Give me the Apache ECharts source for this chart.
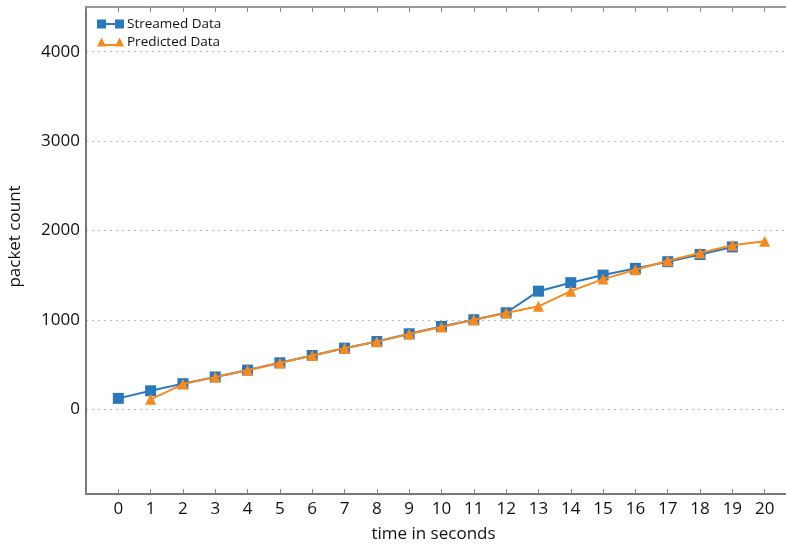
<!DOCTYPE html>
<html>
<head>
<meta charset="utf-8">
<script src="https://cdn.jsdelivr.net/npm/echarts@6/dist/echarts.min.js"></script>
<style>html,body{margin:0;padding:0;background:#fff;overflow:hidden;}#c{width:786px;height:546px;}</style>
</head>
<body>
<div id="c"></div>
<script>
var timeSeconds = [0,1,2,3,4,5,6,7,8,9,10,11,12,13,14,15,16,17,18,19,20];
var streamedData = [120,205,285,360,437,518,600,682,757,843,925,1000,1078,1320,1415,1500,1575,1650,1730,1815,null];
var predictedData = [null,110,280,358,435,515,600,680,755,840,920,1000,1075,1150,1320,1455,1560,1660,1748,1835,1878];
var yTickLabels = [0,1000,2000,3000,4000];

function pairs(vals){
  var out = [];
  for (var i = 0; i < timeSeconds.length; i++) {
    if (vals[i] !== null) out.push([timeSeconds[i], vals[i]]);
  }
  return out;
}

var FONT = '"Open Sans", "Noto Sans", sans-serif';
var chart = echarts.init(document.getElementById('c'), null, {renderer:'canvas'});
chart.setOption({
  animation: false,
  backgroundColor: '#fff',
  grid: {left: 86, top: 7, width: 711, height: 487, containLabel: false, outerBoundsMode: 'none'},
  legend: {
    left: 92, top: 12, orient: 'vertical', itemGap: 4,
    itemWidth: 27, itemHeight: 10,
    textStyle: {fontFamily: FONT, fontSize: 13.5, color: '#111', padding:[0,0,0,-2]},
    data: [
      {name: 'Streamed Data', icon: 'path://M0,0h9v9h-9z M9,3.5h9v2h-9z M18,0h9v9h-9z'},
      {name: 'Predicted Data', icon: 'path://M4.5,0L9,9H0Z M8,6.5h11v2h-11z M22.5,0L27,9H18Z'}
    ]
  },
  xAxis: [{
    type: 'value', min: -1, max: 21, interval: 1,
    name: 'time in seconds', nameLocation: 'middle', nameGap: 32,
    nameTextStyle: {fontFamily: FONT, fontSize: 17, color: '#111', padding:[0,16,0,0]},
    axisLine: {show: true, onZero: false, lineStyle: {color: '#777', width: 2}},
    axisTick: {show: true, inside: true, length: 5, lineStyle: {color: '#888'}},
    axisLabel: {fontFamily: FONT, fontSize: 17, color: '#111', margin: 7,
      formatter: function(v){ return timeSeconds.indexOf(v) >= 0 ? String(v) : ''; }},
    splitLine: {show: false}
  },{
    type: 'value', position: 'top', min: -1, max: 21, interval: 1,
    axisLine: {show: true, onZero: false, lineStyle: {color: '#999', width: 2}},
    axisTick: {show: true, inside: true, length: 5, lineStyle: {color: '#888'}},
    axisLabel: {show: false}, splitLine: {show: false}
  }],
  yAxis: {
    type: 'value', min: -950, max: 4500, splitNumber: 5,
    name: 'packet count', nameLocation: 'middle', nameGap: 62,
    nameTextStyle: {fontFamily: FONT, fontSize: 17, color: '#111', padding:[0,0,0,28]},
    axisLine: {show: true, onZero: false, lineStyle: {color: '#777', width: 2}},
    axisTick: {show: false},
    axisLabel: {fontFamily: FONT, fontSize: 17, color: '#111', margin: 6,
      formatter: function(v){ return yTickLabels.indexOf(v) >= 0 ? String(v) : ''; }},
    splitLine: {show: true, lineStyle: {color: '#bbb', type: [2,4], width: 1}}
  },
  series: [{
    name: 'Streamed Data', type: 'line', data: pairs(streamedData),
    symbol: 'rect', symbolSize: 11, color: '#2878bd',
    lineStyle: {width: 2, color: '#2878bd'}, itemStyle: {color: '#2878bd'}, z: 2
  },{
    name: 'Predicted Data', type: 'line', data: pairs(predictedData),
    symbol: 'triangle', symbolSize: 11, color: '#f7891e',
    lineStyle: {width: 2, color: '#f7891e'}, itemStyle: {color: '#f7891e'}, z: 3
  }]
});
</script>
</body>
</html>
